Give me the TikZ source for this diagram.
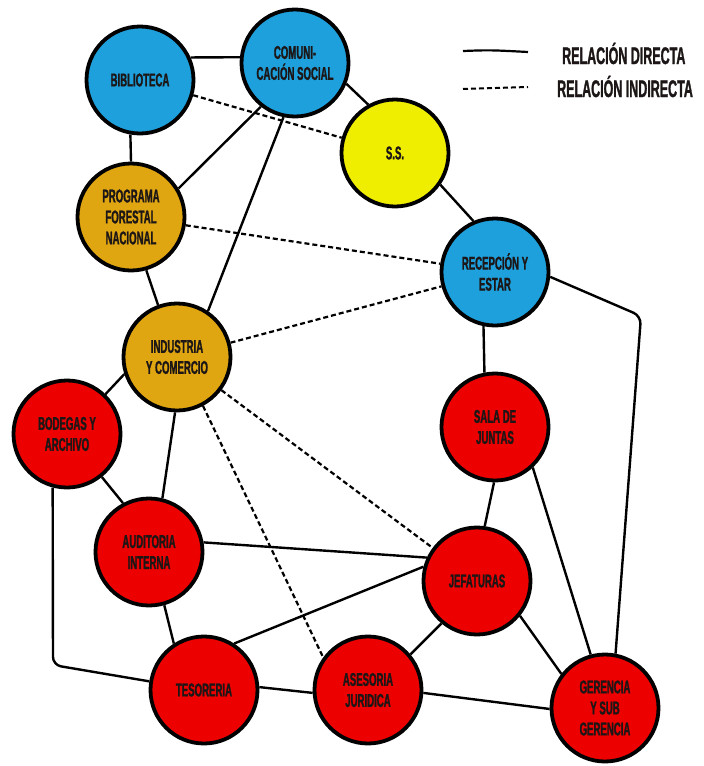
\documentclass[tikz,border=0pt]{standalone}
\usepackage{fontspec}
\newfontfamily\condfont{Liberation Sans}[FakeStretch=0.52,BoldFeatures={FakeBold=1.2}]
\usepackage{tikz}

\definecolor{azul}{RGB}{30,160,220}
\definecolor{amarillo}{RGB}{240,238,0}
\definecolor{ocre}{RGB}{224,166,18}
\definecolor{rojo}{RGB}{236,0,0}
\definecolor{tinta}{RGB}{28,22,22}

\begin{document}
\begin{tikzpicture}[x=1pt,y=-1pt,
        area/.style={circle,draw=black,line width=3.8pt,minimum size=107pt,inner sep=0pt,
            align=center,text=tinta,font=\condfont\bfseries\fontsize{18.5}{21}\selectfont},
        directa/.style={line width=2.4pt,line join=round,rounded corners=8pt},
        indirecta/.style={line width=2.2pt,dash pattern=on 5pt off 3pt},
        leyenda/.style={anchor=base west,inner sep=0pt,text=tinta,
            font=\condfont\bfseries\fontsize{24}{26}\selectfont}]
        \useasboundingbox(0,0)rectangle(704,766);

        % areas
        \node[area,fill=azul](biblio)at(140,80){BIBLIOTECA};
        \node[area,fill=azul](comun)at(295,63){COMUNI-\\CACIÓN SOCIAL};
        \node[area,fill=amarillo](ss)at(395,153){S.S.};
        \node[area,fill=ocre](prog)at(131,217){PROGRAMA\\FORESTAL\\NACIONAL};
        \node[area,fill=azul](recep)at(495,272){RECEPCIÓN Y\\ESTAR};
        \node[area,fill=ocre](indus)at(177,357){INDUSTRIA\\Y COMERCIO};
        \node[area,fill=rojo](bodeg)at(67,434){BODEGAS Y\\ARCHIVO};
        \node[area,fill=rojo](sala)at(495,427){SALA DE\\JUNTAS};
        \node[area,fill=rojo](audit)at(149,552){AUDITORIA\\INTERNA};
        \node[area,fill=rojo](jefat)at(477,581){JEFATURAS};
        \node[area,fill=rojo](tesor)at(204,690){TESORERIA};
        \node[area,fill=rojo](asesor)at(368,690){ASESORIA\\JURIDICA};
        \node[area,fill=rojo](geren)at(605,708){GERENCIA\\Y SUB\\GERENCIA};

        % relacion directa
        \coordinate(codo1)at(53,665);
        \coordinate(codo2)at(641,316);
        \draw[directa](biblio.24)--(comun.174);
        \draw[directa](biblio.-100)--(prog.90);
        \draw[directa](comun.-128)--(prog.31);
        \draw[directa](comun.-102)--(indus.56);
        \draw[directa](comun.-22)--(ss.119);
        \draw[directa](ss.-35)--(recep.113);
        \draw[directa](prog.-74)--(indus.110);
        \draw[directa](indus.198)--(bodeg.46);
        \draw[directa](indus.-92)--(audit.76);
        \draw[directa](bodeg.-51)--(audit.118);
        \draw[directa](bodeg.-105)--(codo1)--(tesor.171);
        \draw[directa](audit.-74)--(tesor.123);
        \draw[directa](audit.10)--(jefat.155);
        \draw[directa](tesor.57)--(jefat.165);
        \draw[directa](tesor.3)--(asesor.183);
        \draw[directa](asesor.40)--(jefat.-130);
        \draw[directa](asesor.-3)--(geren.181);
        \draw[directa](jefat.-39)--(geren.142);
        \draw[directa](jefat.82)--(sala.-91);
        \draw[directa](sala.-47)--(geren.105);
        \draw[directa](recep.-102)--(sala.101);
        \draw[directa](recep.-5)--(codo2)--(geren.79);

        % relacion indirecta
        \draw[indirecta](biblio)--(ss);
        \draw[indirecta](prog)--(recep);
        \draw[indirecta](indus)--(recep);
        \draw[indirecta](indus)--(jefat);
        \draw[indirecta](indus.-62)--(asesor.144);

        % leyenda
        \coordinate(ld1)at(463,51);
        \coordinate(ld2)at(528,52);
        \coordinate(li1)at(463,89);
        \coordinate(li2)at(528,87);
        \draw[line width=2.2pt](ld1)..controls(490,50)..(ld2);
        \draw[indirecta,line width=2pt](li1)--(li2);
        \node[leyenda](tdir)at(562,64){RELACIÓN DIRECTA};
        \node[leyenda](tind)at(557,97){RELACIÓN INDIRECTA};
\end{tikzpicture}
\end{document}
